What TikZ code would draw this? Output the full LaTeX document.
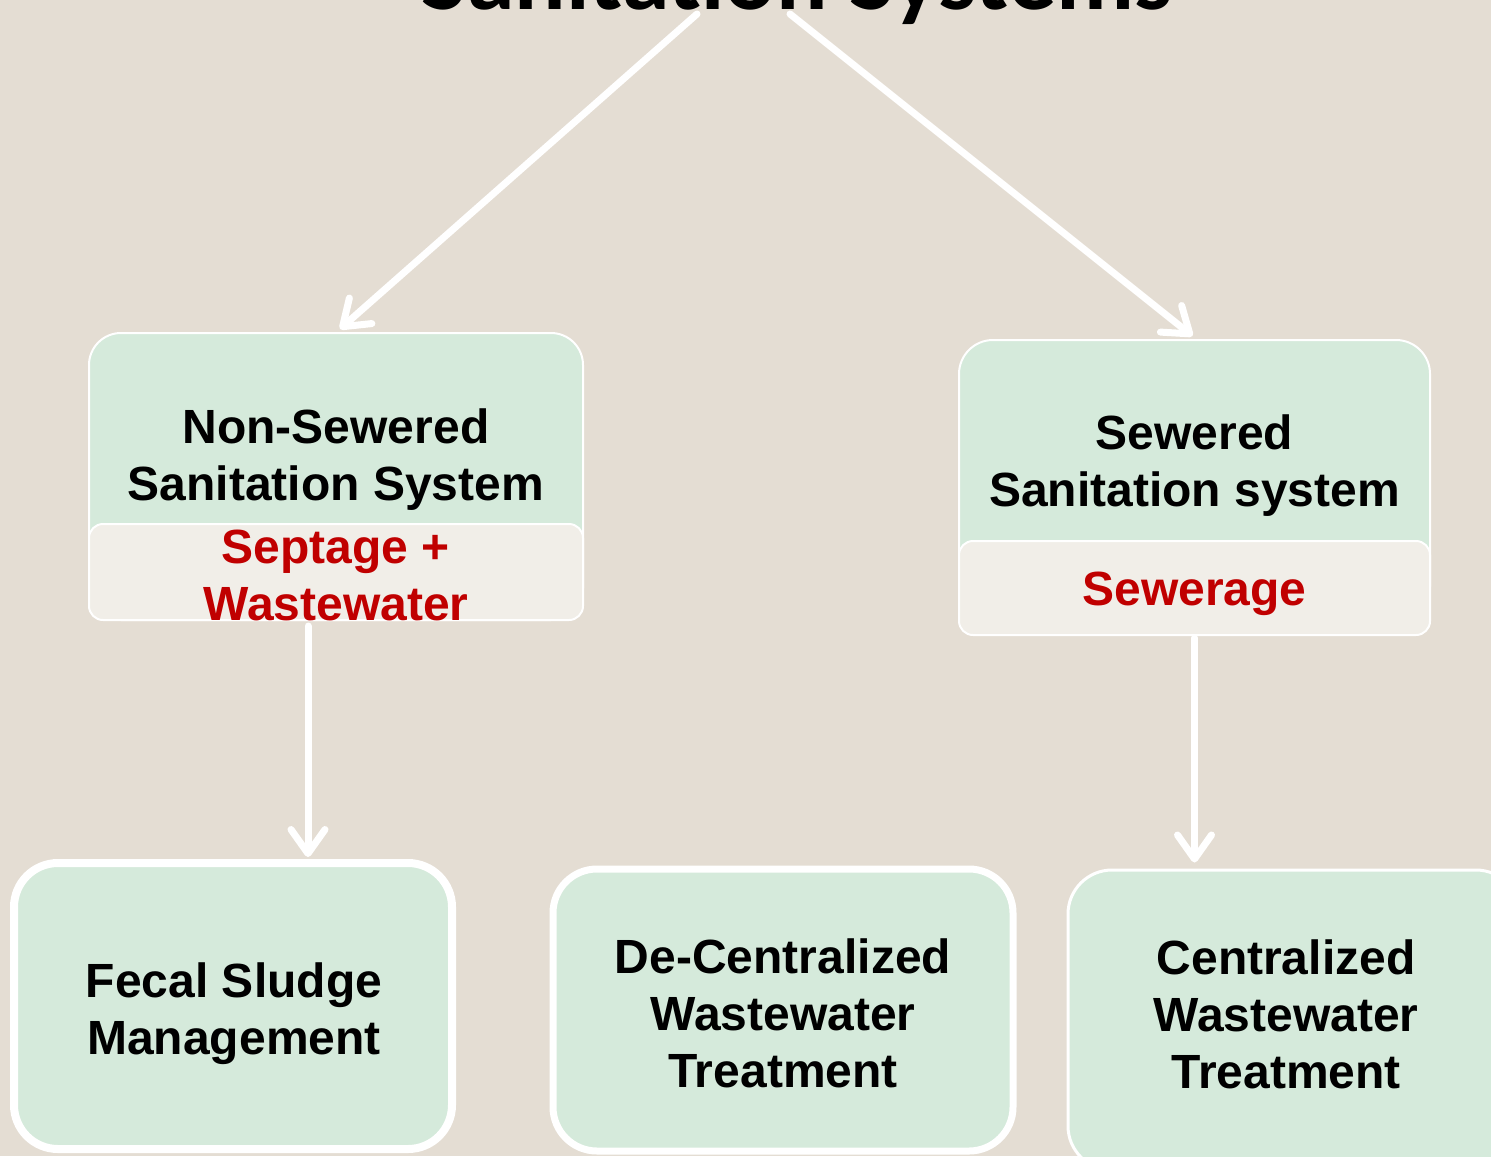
\documentclass[tikz,border=0pt]{standalone}
\usepackage{fontspec}
\setmainfont{Liberation Sans}
\newfontfamily\titlefam{Carlito}
\usetikzlibrary{arrows.meta}
\definecolor{bgc}{HTML}{E4DDD3}
\definecolor{greenc}{HTML}{D5EADB}
\definecolor{beigec}{HTML}{F1EEE8}
\definecolor{redc}{HTML}{C00000}
\tikzset{
  greenbox/.style={draw=white, fill=greenc, inner sep=0pt},
  beigebox/.style={draw=white, fill=beigec, inner sep=0pt, line width=1pt, rounded corners=7pt},
  txt/.style={font=\fontsize{24}{28.5}\bfseries\selectfont, align=center, inner sep=0pt, text=black},
  redtxt/.style={txt, text=redc},
  arr/.style={draw=white, line width=3.5pt, line cap=round,
    -{Straight Barb[length=12pt,width=17pt,line width=3.5pt,line cap=round,line join=round]}}
}
\begin{document}
\begin{tikzpicture}[x=0.5pt,y=-0.5pt]
\useasboundingbox (0,0) rectangle (1491,1156);
\clip (0,0) rectangle (1491,1156);
\fill[bgc] (0,0) rectangle (1491,1156);
% title
\node[font=\titlefam\fontsize{48}{56}\bfseries\selectfont, anchor=base, inner sep=0pt] (title) at (797,10) {Sanitation Systems};
\coordinate (ts1) at (697,14);
\coordinate (ts2) at (790,14);
% upper boxes
\node[greenbox, line width=1pt, rounded corners=16pt, minimum width=247pt, minimum height=143.5pt] (nss) at (336,476.5) {};
\node[beigebox, minimum width=247pt, minimum height=48pt] (nssb) at (336,572) {};
\node[txt] (nsst) at (336,459.5) {Non-Sewered\\Sanitation System};
\node[redtxt] (nssbt) at (336,575) {Septage +\\Wastewater};
\node[greenbox, line width=1pt, rounded corners=17pt, minimum width=235.5pt, minimum height=140pt] (sss) at (1194.5,480) {};
\node[beigebox, minimum width=235.5pt, minimum height=47pt] (sssb) at (1194.5,588) {};
\node[txt] (ssst) at (1194.5,466) {Sewered\\Sanitation system};
\node[redtxt] (sssbt) at (1194.5,594) {Sewerage};
% lower boxes
\node[greenbox, line width=4pt, rounded corners=22pt, minimum width=219pt, minimum height=143pt] (fsm) at (233,1006) {};
\node[txt] (fsmt) at (234,1013.5) {Fecal Sludge\\Management};
\node[greenbox, line width=3.5pt, rounded corners=22pt, minimum width=230pt, minimum height=141pt] (dwt) at (783,1010) {};
\node[txt] (dwtt) at (783,1013) {De-Centralized\\Wastewater\\Treatment};
\node[greenbox, line width=1.5pt, rounded corners=22pt, minimum width=226pt, minimum height=150pt] (cwt) at (1294,1020) {};
\node[txt] (cwtt) at (1286,1014) {Centralized\\Wastewater\\Treatment};
% arrows
\draw[arr] (ts1) -- ([xshift=2pt,yshift=1.5pt]nss.north);
\draw[arr] (ts2) -- ([xshift=-1pt,yshift=1.5pt]sss.north);
\draw[arr] ([xshift=-14pt,yshift=-2.5pt]nssb.south) -- ([xshift=-14pt,yshift=1pt]nssb.south |- fsm.north);
\draw[arr] ([yshift=-1pt]sssb.south) -- ([yshift=3pt]sssb.south |- cwt.north);
\end{tikzpicture}
\end{document}
